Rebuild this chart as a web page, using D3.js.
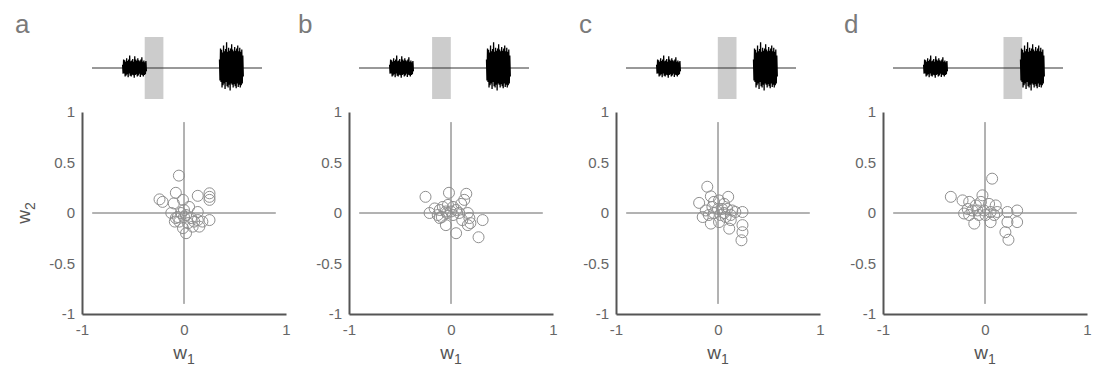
<!DOCTYPE html>
<html>
<head>
<meta charset="utf-8">
<script src="https://cdn.jsdelivr.net/npm/d3@7"></script>
<style>
  body { margin: 0; background: #fff; }
  text { font-family: "Liberation Sans", Arial, sans-serif; }
</style>
</head>
<body>
<script>
// panel letters
var letters = ["a", "b", "c", "d"];

// analysis window on the sound trace (fraction of trace length)
var winStart = [0.31, 0.43, 0.54, 0.65];
var winEnd   = [0.42, 0.54, 0.65, 0.76];

// the two sound bursts (fraction of trace length) and their samples
var burstT = [[0.18, 0.32], [0.75, 0.89]];
var burst1 = [0.12,-0.2,0.3,-0.2,0.28,-0.3,0.22,-0.27,0.35,-0.22,0.25,-0.33,0.3,-0.2,0.45,-0.28,0.24,-0.3,0.27,-0.24,0.32,-0.26,0.22,-0.35,0.42,-0.25,0.3,-0.22,0.26,-0.3,0.35,-0.27,0.28,-0.2,0.24,-0.32,0.3,-0.24,0.38,-0.26,0.22,-0.3,0.27,-0.25,0.2,-0.22,0.25,-0.12];
var burst2 = [0.3,-0.45,0.7,-0.5,0.65,-0.7,0.55,-0.62,0.8,-0.55,0.6,-0.75,0.68,-0.5,0.92,-0.65,0.58,-0.7,0.72,-0.6,0.62,-0.8,0.7,-0.55,0.85,-0.6,0.66,-0.7,0.6,-0.58,0.75,-0.65,0.62,-0.72,0.7,-0.55,0.8,-0.68,0.6,-0.6,0.72,-0.7,0.58,-0.62,0.66,-0.55,0.45,-0.3];

// weights w1 / w2 per panel
var w1a = [-0.05,-0.24,-0.21,-0.08,-0.10,-0.01,0.135,0.25,0.25,0.25,0.135,0,0.05,-0.125,-0.08,-0.045,-0.09,-0.03,0.02,0.07,0.135,0.18,0.25,0.15,0.085,0.02,0,0.04,-0.06,0.10,-0.01];
var w2a = [0.37,0.135,0.11,0.20,0.095,0.13,0.17,0.195,0.16,0.13,0.01,0.03,0.06,0,-0.05,-0.085,-0.085,0,-0.02,-0.05,-0.07,-0.085,-0.07,-0.135,-0.135,-0.20,-0.04,-0.10,-0.04,-0.085,-0.15];
var w1b = [-0.25,-0.02,0.15,0.13,0.10,-0.21,-0.16,-0.11,-0.08,-0.03,0.02,0.05,0,-0.05,-0.13,-0.09,-0.04,0.02,0.08,0.165,0.18,0.31,0.165,0.19,-0.05,0.05,0.27,0.11,-0.11];
var w2b = [0.16,0.20,0.19,0.13,0.09,0,0.045,0.03,0.06,0.08,0.06,0.03,0.015,0.015,-0.02,-0.04,0,-0.02,0,0,-0.05,-0.07,-0.12,-0.10,-0.12,-0.20,-0.24,-0.07,-0.05];
var w1c = [-0.105,-0.185,-0.07,0.10,-0.04,0.01,0.06,-0.055,0,0.04,0.09,0.14,0.17,0.24,-0.15,-0.09,-0.04,0.025,0.075,0.125,-0.07,0.01,0.11,0.24,0.24,0.23,0.125,0.06,-0.12];
var w2c = [0.26,0.10,0.165,0.16,0.11,0.125,0.09,0.06,0.04,0.04,0.04,0.025,0.01,0.01,-0.04,-0.02,0,-0.02,-0.04,-0.02,-0.105,-0.09,-0.155,-0.12,-0.19,-0.27,-0.07,0,0.025];
var w1d = [0.07,-0.335,-0.22,-0.155,-0.025,-0.09,-0.04,0.04,0.105,-0.17,-0.125,-0.075,-0.01,0.055,0.12,-0.155,-0.06,0.005,0.09,0.315,0.22,-0.105,0.055,0.22,0.315,0.20,0.23,-0.205];
var w2d = [0.34,0.16,0.125,0.11,0.175,0.075,0.11,0.09,0.075,0.04,0.025,0.025,0.025,0.01,0.01,-0.02,-0.02,-0.02,-0.02,0.025,0.01,-0.105,-0.09,-0.09,-0.09,-0.19,-0.265,-0.005];

var w1s = [w1a, w1b, w1c, w1d];
var w2s = [w2a, w2b, w2c, w2d];

var ticks = [-1, -0.5, 0, 0.5, 1];
var xTicks = [-1, 0, 1];

// layout
var panelX = [82, 349, 616, 883];
var letterX = [15, 298, 579, 844];
var plotW = 204, plotTop = 112, plotH = 202;

var svg = d3.select("body").append("svg")
  .attr("width", 1094)
  .attr("height", 372);

var x = d3.scaleLinear().domain([-1, 1]).range([0, plotW]);
var y = d3.scaleLinear().domain([-1, 1]).range([plotH, 0]);

// sound trace scales (relative to panel left)
var tx = d3.scaleLinear().domain([0, 1]).range([10, 180]);
var ty = d3.scaleLinear().domain([-1, 1]).range([96, 40]);

letters.forEach(function(l, i) {
  svg.append("text")
    .attr("x", letterX[i]).attr("y", 33)
    .text(l)
    .style("font-size", "26px")
    .style("fill", "#7a7a7a");

  // sound trace
  var gw = svg.append("g").attr("transform", "translate(" + panelX[i] + ",0)");
  gw.append("rect")
    .attr("x", tx(winStart[i]))
    .attr("y", 37)
    .attr("width", tx(winEnd[i]) - tx(winStart[i]))
    .attr("height", 62)
    .style("fill", "#cccccc");
  gw.append("line")
    .attr("x1", tx(0)).attr("x2", tx(1))
    .attr("y1", ty(0)).attr("y2", ty(0))
    .style("stroke", "#333").style("stroke-width", 1);
  [burst1, burst2].forEach(function(b, k) {
    var t0 = burstT[k][0], t1 = burstT[k][1];
    var line = d3.line()
      .x(function(d, j) { return tx(t0 + (t1 - t0) * j / (b.length - 1)); })
      .y(function(d) { return ty(d); });
    gw.append("path")
      .attr("d", line(b))
      .style("fill", "none")
      .style("stroke", "#000")
      .style("stroke-width", 1.3);
  });

  // scatter panel
  var g = svg.append("g").attr("transform", "translate(" + panelX[i] + "," + plotTop + ")");

  g.append("line")
    .attr("x1", x(0)).attr("x2", x(0))
    .attr("y1", y(0.9)).attr("y2", y(-0.9))
    .style("stroke", "#666").style("stroke-width", 1);
  g.append("line")
    .attr("x1", x(-0.9)).attr("x2", x(0.9))
    .attr("y1", y(0)).attr("y2", y(0))
    .style("stroke", "#666").style("stroke-width", 1);

  var pts = w1s[i].map(function(v, j) { return [v, w2s[i][j]]; });
  g.selectAll("circle.pt").data(pts).enter().append("circle")
    .attr("class", "pt")
    .attr("cx", function(d) { return x(d[0]); })
    .attr("cy", function(d) { return y(d[1]); })
    .attr("r", 5.5)
    .style("fill", "none")
    .style("stroke", "#8f8f8f")
    .style("stroke-width", 1);

  var ya = g.append("g")
    .call(d3.axisLeft(y).tickValues(ticks).tickSize(0).tickPadding(7)
      .tickFormat(function(d) { return String(d); }));
  var xa = g.append("g").attr("transform", "translate(0," + plotH + ")")
    .call(d3.axisBottom(x).tickValues(xTicks).tickSize(0).tickPadding(10)
      .tickFormat(function(d) { return String(d); }));
  [ya, xa].forEach(function(a) {
    a.select(".domain").style("stroke", "#555").style("stroke-width", 2);
    a.selectAll("text")
      .style("font-family", "Liberation Sans, Arial, sans-serif")
      .style("font-size", "15px")
      .style("fill", "#666");
  });

  var xl = svg.append("text")
    .attr("x", panelX[i] + x(0)).attr("y", 359)
    .attr("text-anchor", "middle")
    .style("font-size", "19px").style("fill", "#555");
  xl.append("tspan").text("w");
  xl.append("tspan").attr("dy", 5).style("font-size", "14px").text("1");
});

var yl = svg.append("text")
  .attr("transform", "translate(30," + (plotTop + y(0)) + ") rotate(-90)")
  .attr("text-anchor", "middle")
  .style("font-size", "19px").style("fill", "#555");
yl.append("tspan").text("w");
yl.append("tspan").attr("dy", 5).style("font-size", "14px").text("2");
</script>
</body>
</html>
